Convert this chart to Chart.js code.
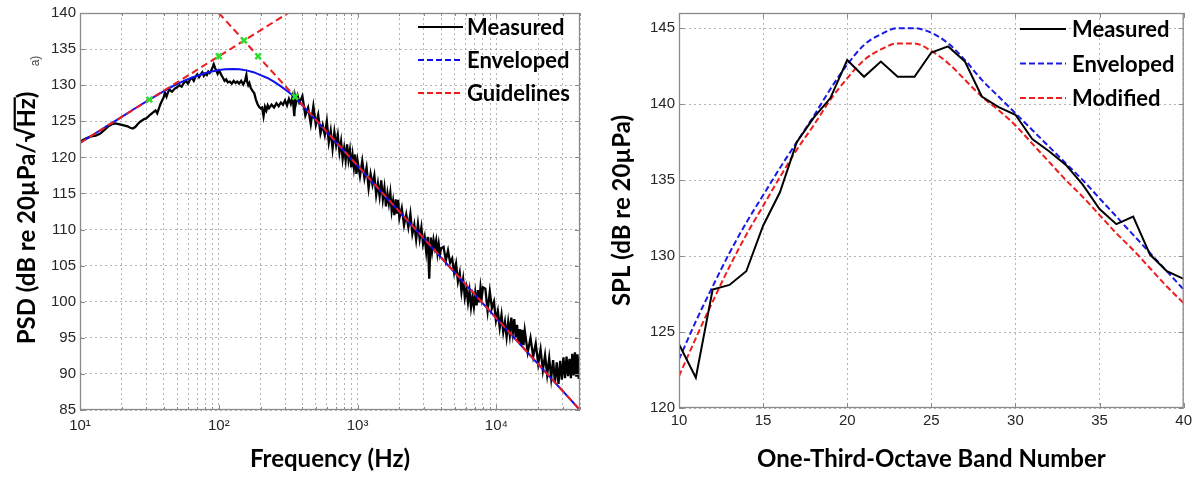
<!DOCTYPE html>
<html><head><meta charset="utf-8">
<script src="https://cdn.jsdelivr.net/npm/chart.js@4.4.1/dist/chart.umd.min.js"></script>
<style>
html,body{margin:0;padding:0;background:#fff;}
#wrap{position:relative;width:1196px;height:477px;overflow:hidden;}
#c1{position:absolute;left:0;top:0;}
#c2{position:absolute;left:600px;top:0;}
</style></head><body>
<div id="wrap"><canvas id="c1" width="600" height="477"></canvas><canvas id="c2" width="596" height="477"></canvas></div>
<script>
// ---------------- LEFT CHART DATA (PSD vs frequency) ----------------
const psdTicks = [85,90,95,100,105,110,115,120,125,130,135,140];
const freqTicks = [10,20,30,40,50,60,70,80,90,100,200,300,400,500,600,700,800,900,1000,2000,3000,4000,5000,6000,7000,8000,9000,10000,20000,30000,40000];
const decadeLabels = {10:'10\u00B9',100:'10\u00B2',1000:'10\u00B3',10000:'10\u2074'};

const measuredFreq = [10,11,12,13,14,15,16,17,18,19,20,21,22,23,24,25,26,27,28,29,30,32,34,35,36,38,40,41,42,43,44,46,48,50,52,54,56,58,60,62,64,66,68,70,72,74,76,78,80,82,84,86,88,90,92,94,96,98,100,102,105,108,110,113,116,120,124,128,132,136,140,145,150,155,158,160,163,166,170,175,180,185,190,195,200,205,210,215,220,225,230,240,250,260,270,280,290,300,310,320,330,340,350,355,360,370,380,390,
400,420,440,460,480,500,520,540,560,580,600,620,640,660,680,700,720,740,760,780,800,820,840,860,880,900,920,940,960,980,1000,
1040,1080,1120,1160,1200,1240,1280,1320,1360,1400,1440,1480,1520,1560,1600,1640,1680,1720,1760,1800,1840,1880,1920,1960,2000,
2080,2160,2240,2320,2400,2480,2560,2640,2720,2800,2880,2960,3040,3120,3200,3280,3360,3440,3520,3600,3680,3760,3840,3920,4000,
4160,4320,4480,4640,4800,4960,5120,5280,5440,5600,5760,5920,6080,6240,6400,6560,6720,6880,7040,7200,7360,7520,7680,7840,8000,
8320,8640,8960,9280,9600,9920,10240,10560,10880,11200,11520,11840,12160,12480,12800,13120,13440,13760,14080,14400,14720,15040,15360,15680,16000,
16800,17600,18400,19200,20000,20800,21600,22400,23200,24000,24800,25600,26400,27200,28000,28800,29600,30400,31200,32000,32800,33600,34400,35200,36000,36800,37600,38400,39200,40000];
const measuredPSD = [122.2,122.6,122.9,123.0,123.3,123.8,124.3,124.6,124.7,124.6,124.5,124.4,124.3,124.1,124.0,124.2,124.6,124.9,125.1,125.3,125.4,125.9,126.3,126.5,126.1,127.4,128.3,128.9,128.4,129.0,129.4,129.1,129.5,129.7,130.0,129.8,130.3,130.6,130.2,130.8,131.0,130.6,131.2,131.5,131.1,131.5,131.8,131.3,131.6,131.4,131.9,131.7,132.0,132.4,132.9,132.4,132.0,131.6,132.0,131.8,131.3,130.9,130.6,130.8,130.4,130.5,130.2,130.6,130.3,130.5,130.2,130.6,130.1,130.7,131.4,130.5,130.0,130.3,129.6,129.2,128.9,128.0,127.4,127.0,126.8,126.9,125.7,127.0,126.5,127.2,126.8,127.3,126.9,127.5,127.1,127.6,127.3,127.9,127.2,128.1,127.4,128.4,125.7,128.2,127.5,128.5,127.6,128.0,
128.5,125.8,126.9,124.6,127.1,124.5,125.9,123.3,124.5,123.1,125.0,122.1,123.7,121.2,123.5,121.7,123.1,120.7,122.2,119.8,121.3,119.6,121.8,119.7,121.0,118.6,120.3,118.6,120.4,117.7,119.5,
117.4,119.5,117.1,118.6,115.7,117.7,116.2,117.5,114.8,116.4,114.6,116.8,114.2,115.8,113.2,115.0,113.6,115.1,112.6,113.9,112.0,114.2,112.2,114.1,111.6,
113.0,110.6,112.1,110.3,112.2,109.4,110.7,108.6,110.8,108.7,110.3,108.0,109.0,106.9,109.0,103.2,108.9,107.0,108.6,107.5,108.5,106.7,108.0,106.6,107.4,
107.6,105.7,107.1,105.4,106.0,104.0,105.3,102.8,104.0,101.4,103.1,100.6,101.9,99.9,101.5,99.2,100.7,99.3,101.2,99.5,101.6,99.9,102.0,100.6,102.0,
101.8,98.7,101.4,99.1,100.0,97.4,98.7,96.4,98.2,95.8,97.2,95.1,97.2,95.4,97.8,95.7,97.6,95.1,96.8,94.3,96.2,94.0,96.1,94.0,96.0,
93.0,95.0,92.4,94.2,91.4,93.4,90.5,92.6,89.9,92.2,89.4,91.9,88.8,91.6,88.6,91.8,89.2,92.3,89.4,92.4,89.7,92.1,89.4,92.8,89.8,93.0,89.6,92.7,89.3,92.2];

const envelopeFreq = [10,12.6,15.8,20,25,31.6,40,45,50,56,63,71,79,89,100,112,126,141,158,178,200,224,251,282,316,355,40000];
const envelopePSD = [122.0,123.2,124.4,125.6,126.8,128.0,129.15,129.7,130.15,130.6,131.0,131.35,131.65,131.9,132.1,132.2,132.25,132.2,132.05,131.8,131.4,131.0,130.45,129.8,129.1,128.3,85.0];

const guideRiseFreq = [10,316.2];
const guideRisePSD = [122.0,140.0];
const guideFallFreq = [100,40000];
const guideFallPSD = [140.0,85.0];

const markerFreq = [31.6,100,152,192,355];
const markerPSD = [128.0,134.0,136.2,134.0,128.4];

// ---------------- RIGHT CHART DATA (SPL vs band number) ----------------
const bandNumbers = [10,11,12,13,14,15,16,17,18,19,20,21,22,23,24,25,26,27,28,29,30,31,32,33,34,35,36,37,38,39,40];
const bandTicks = [10,15,20,25,30,35,40];
const splTicks = [120,125,130,135,140,145];
const splMeasured = [124.2,122.0,127.8,128.1,129.0,132.0,134.2,137.5,139.1,140.4,142.9,141.8,142.8,141.8,141.8,143.4,143.8,142.8,140.5,139.8,139.3,137.7,136.9,136.0,134.7,133.1,132.1,132.6,130.1,129.0,128.5];
const splEnveloped = [123.2,125.7,128.0,130.2,132.2,134.0,135.8,137.5,139.2,141.0,142.6,143.9,144.6,145.0,145.0,144.7,144.0,142.9,141.6,140.5,139.4,138.3,137.2,136.1,135.0,133.8,132.6,131.4,130.2,129.0,127.8];
const splModified = [122.1,124.6,127.0,129.3,131.4,133.3,135.2,137.0,138.6,140.3,141.7,142.9,143.6,144.0,144.0,143.5,142.7,141.6,140.5,139.6,138.6,137.4,136.2,135.0,133.9,132.7,131.5,130.4,129.2,128.0,126.9];

// ---------------- helpers / plugins ----------------
const pts = (xs, ys) => xs.map((x, i) => ({x: x, y: ys[i]}));
const TICK_FONT = {family: 'Liberation Sans', size: 15};
const TICK_COLOR = '#262626';
const GRID_COLOR = 'rgba(130,130,130,0.6)';

const boxPlugin = {
  id: 'matlabBox',
  afterDatasetsDraw(chart, args, o) {
    const {ctx, chartArea: a, scales} = chart;
    ctx.save();
    ctx.strokeStyle = '#8a8a8a';
    ctx.lineWidth = 1;
    ctx.setLineDash([]);
    ctx.beginPath();
    scales.x.ticks.forEach(t => {
      const px = Math.round(scales.x.getPixelForValue(t.value)) + 0.5;
      const len = (o.majorX && !o.majorX.includes(t.value)) ? 3 : 5;
      ctx.moveTo(px, a.bottom); ctx.lineTo(px, a.bottom - len);
      ctx.moveTo(px, a.top); ctx.lineTo(px, a.top + len);
    });
    scales.y.ticks.forEach(t => {
      const py = Math.round(scales.y.getPixelForValue(t.value)) + 0.5;
      ctx.moveTo(a.left, py); ctx.lineTo(a.left + 5, py);
      ctx.moveTo(a.right, py); ctx.lineTo(a.right - 5, py);
    });
    ctx.stroke();
    ctx.lineWidth = 1.3;
    ctx.strokeRect(a.left + 0.5, a.top + 0.5, a.right - a.left - 1, a.bottom - a.top - 1);
    ctx.restore();
  }
};

const legendPlugin = {
  id: 'lineLegend',
  afterDraw(chart, args, o) {
    const ctx = chart.ctx;
    ctx.save();
    o.items.forEach((it, i) => {
      const ds = chart.data.datasets[it.index];
      const y = o.y0 + i * o.dy;
      ctx.strokeStyle = ds.borderColor;
      ctx.lineWidth = 2;
      ctx.setLineDash(it.dash || []);
      ctx.beginPath(); ctx.moveTo(o.x0, y); ctx.lineTo(o.x1, y); ctx.stroke();
      ctx.setLineDash([]);
      ctx.fillStyle = '#000';
      ctx.font = o.font;
      ctx.textAlign = 'left';
      ctx.textBaseline = 'middle';
      ctx.fillText(ds.label, o.x1 + o.gap, y + 1);
    });
    ctx.restore();
  }
};

const psdTitlePlugin = {
  id: 'psdTitle',
  afterDraw(chart, args, o) {
    const ctx = chart.ctx;
    ctx.save();
    ctx.translate(o.x, o.y);
    ctx.rotate(-Math.PI / 2);
    ctx.font = o.font;
    ctx.fillStyle = '#000';
    ctx.textAlign = 'left';
    ctx.textBaseline = 'middle';
    const full = o.text;
    const cut = full.indexOf('\u221A') + 1;
    const W = ctx.measureText(full).width;
    const P = ctx.measureText(full.slice(0, cut)).width;
    const H = ctx.measureText(full.slice(cut, full.length - 1)).width;
    const rad = ctx.measureText('\u221A');
    ctx.fillText(full, -W / 2, 0);
    const top = -rad.actualBoundingBoxAscent + 1;
    ctx.strokeStyle = '#000';
    ctx.lineWidth = 2.2;
    ctx.beginPath();
    ctx.moveTo(-W / 2 + P - 2, top);
    ctx.lineTo(-W / 2 + P + H + 1, top);
    ctx.stroke();
    // small panel tag
    ctx.font = o.tagFont;
    ctx.fillStyle = '#444';
    ctx.textAlign = 'center';
    ctx.fillText(o.tag, o.tagPos[0], o.tagPos[1]);
    ctx.restore();
  }
};

// ---------------- LEFT CHART ----------------
new Chart(document.getElementById('c1'), {
  type: 'line',
  data: {
    datasets: [
      {label: 'Measured', data: pts(measuredFreq, measuredPSD), borderColor: '#000000', borderWidth: 2.3, pointRadius: 0, tension: 0, order: 5},
      {label: 'Enveloped', data: pts(envelopeFreq, envelopePSD), borderColor: '#1010ee', borderWidth: 2, pointRadius: 0, tension: 0, order: 4},
      {label: 'Guidelines', data: pts(guideRiseFreq, guideRisePSD), borderColor: '#ee1c1c', borderWidth: 2, borderDash: [7, 4], pointRadius: 0, order: 3},
      {label: 'Guidelines', data: pts(guideFallFreq, guideFallPSD), borderColor: '#ee1c1c', borderWidth: 2, borderDash: [7, 4], pointRadius: 0, order: 2},
      {label: 'Markers', data: pts(markerFreq, markerPSD), showLine: false, pointStyle: 'crossRot', pointRadius: 4, borderColor: '#2ee02e', backgroundColor: '#2ee02e', pointBorderWidth: 2.5, order: 1}
    ]
  },
  options: {
    responsive: false, animation: false,
    layout: {padding: {left: 0, right: 20, top: 13, bottom: 0}},
    plugins: {
      legend: {display: false}, tooltip: {enabled: false},
      lineLegend: {x0: 418, x1: 463, gap: 4, y0: 27, dy: 33, font: 'bold 22px Lato',
        items: [{index: 0}, {index: 1, dash: [6, 3]}, {index: 2, dash: [6, 3]}]},
      psdTitle: {x: 27, y: 218, font: 'bold 24px Lato', text: 'PSD (dB re 20\u00B5Pa/\u221AHz)',
        tag: 'a)', tagFont: '12px Liberation Sans', tagPos: [157, 9]},
      matlabBox: {majorX: [10, 100, 1000, 10000]}
    },
    scales: {
      x: {
        type: 'logarithmic', min: 10, max: 40000,
        afterBuildTicks: s => { s.ticks = freqTicks.map(v => ({value: v})); },
        afterFit: s => { s.height = 67; },
        ticks: {autoSkip: false, maxRotation: 0, minRotation: 0, padding: 7, color: TICK_COLOR, font: TICK_FONT,
          callback: v => decadeLabels[v] || ''},
        grid: {color: GRID_COLOR, lineWidth: 1, drawTicks: false},
        border: {display: false, dash: [2, 3]},
        title: {display: true, text: 'Frequency (Hz)', color: '#000', font: {family: 'Lato', size: 24, weight: 'bold'}, padding: {top: 0, bottom: 3}}
      },
      y: {
        type: 'linear', min: 85, max: 140,
        afterBuildTicks: s => { s.ticks = psdTicks.map(v => ({value: v})); },
        afterFit: s => { s.width = 80; },
        ticks: {padding: 4, color: TICK_COLOR, font: TICK_FONT},
        grid: {color: GRID_COLOR, lineWidth: 1, drawTicks: false},
        border: {display: false, dash: [2, 3]}
      }
    }
  },
  plugins: [boxPlugin, legendPlugin, psdTitlePlugin]
});

// ---------------- RIGHT CHART ----------------
new Chart(document.getElementById('c2'), {
  type: 'line',
  data: {
    datasets: [
      {label: 'Measured', data: pts(bandNumbers, splMeasured), borderColor: '#000000', borderWidth: 2, pointRadius: 0, tension: 0, order: 1},
      {label: 'Enveloped', data: pts(bandNumbers, splEnveloped), borderColor: '#1a1ae6', borderWidth: 2, borderDash: [6, 3], pointRadius: 0, cubicInterpolationMode: 'monotone', order: 2},
      {label: 'Modified', data: pts(bandNumbers, splModified), borderColor: '#ee1c1c', borderWidth: 2, borderDash: [6, 3], pointRadius: 0, cubicInterpolationMode: 'monotone', order: 3}
    ]
  },
  options: {
    responsive: false, animation: false,
    layout: {padding: {left: 0, right: 10, top: 13, bottom: 0}},
    plugins: {
      legend: {display: false}, tooltip: {enabled: false},
      lineLegend: {x0: 420, x1: 466, gap: 6, y0: 29, dy: 34.5, font: 'bold 22px Lato',
        items: [{index: 0}, {index: 1, dash: [6, 3]}, {index: 2, dash: [6, 3]}]},
      matlabBox: {}
    },
    scales: {
      x: {
        type: 'linear', min: 10, max: 40,
        afterBuildTicks: s => { s.ticks = bandTicks.map(v => ({value: v})); },
        afterFit: s => { s.height = 69; },
        ticks: {autoSkip: false, maxRotation: 0, padding: 4, color: TICK_COLOR, font: TICK_FONT},
        grid: {color: GRID_COLOR, lineWidth: 1, drawTicks: false},
        border: {display: false, dash: [2, 3]},
        title: {display: true, text: 'One-Third-Octave Band Number', color: '#000', font: {family: 'Lato', size: 24, weight: 'bold'}, padding: {top: 0, bottom: 3}}
      },
      y: {
        type: 'linear', min: 120, max: 146,
        afterBuildTicks: s => { s.ticks = splTicks.map(v => ({value: v})); },
        afterFit: s => { s.width = 79; },
        ticks: {padding: 4, color: TICK_COLOR, font: TICK_FONT},
        grid: {color: GRID_COLOR, lineWidth: 1, drawTicks: false},
        border: {display: false, dash: [2, 3]},
        title: {display: true, text: 'SPL (dB re 20\u00B5Pa)', color: '#000', font: {family: 'Lato', size: 24, weight: 'bold'}, padding: {top: 8, bottom: 0}}
      }
    }
  },
  plugins: [boxPlugin, legendPlugin]
});
</script>
</body></html>
